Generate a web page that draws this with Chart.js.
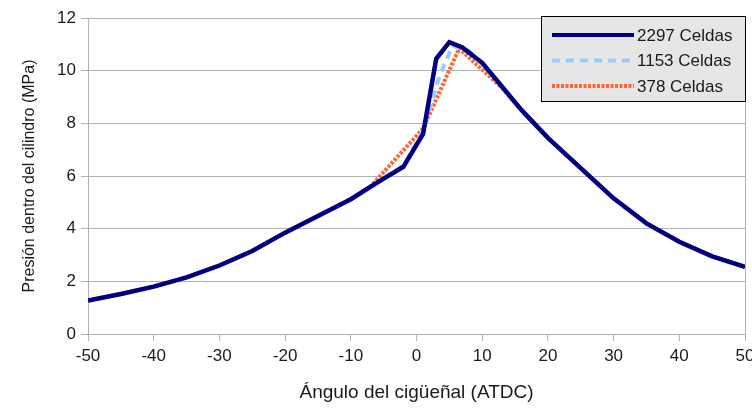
<!DOCTYPE html>
<html>
<head>
<meta charset="utf-8">
<script src="https://cdn.jsdelivr.net/npm/chart.js@4"></script>
<style>
  html, body { margin: 0; padding: 0; background: #fff; }
  #wrap { width: 752px; height: 410px; position: relative; }
</style>
</head>
<body>
<div id="wrap"><canvas id="pressureChart"></canvas></div>
<script>
// Crank angle (deg ATDC) and cylinder pressure (MPa)
const angles2297 = [-50, -45, -40, -35, -30, -25, -20, -15, -10, -6, -2, 1, 3, 5, 7, 10, 13, 16, 20, 25, 30, 35, 40, 45, 50];
const press2297  = [1.27, 1.52, 1.80, 2.15, 2.60, 3.15, 3.85, 4.48, 5.12, 5.75, 6.35, 7.6, 10.45, 11.08, 10.88, 10.3, 9.4, 8.5, 7.45, 6.3, 5.15, 4.2, 3.5, 2.95, 2.55];

const angles1153 = [-50, -45, -40, -35, -30, -25, -20, -15, -10, -6, -2, 1, 3.5, 5.5, 8, 10, 13, 16, 20, 25, 30, 35, 40, 45, 50];
const press1153  = [1.27, 1.52, 1.80, 2.15, 2.60, 3.15, 3.85, 4.48, 5.12, 5.72, 6.4, 7.7, 9.8, 10.95, 10.75, 10.25, 9.4, 8.5, 7.45, 6.3, 5.15, 4.2, 3.5, 2.95, 2.55];

const angles378 = [-50, -45, -40, -35, -30, -25, -20, -15, -10, -7, 1, 6.5, 9.5, 13, 16, 20, 25, 30, 35, 40, 45, 50];
const press378  = [1.27, 1.52, 1.80, 2.15, 2.60, 3.15, 3.85, 4.48, 5.12, 5.6, 7.8, 10.85, 10.15, 9.35, 8.5, 7.45, 6.3, 5.15, 4.2, 3.5, 2.95, 2.55];

const seriesLabels = ['2297 Celdas', '1153 Celdas', '378 Celdas'];
const xTicks = [-50, -40, -30, -20, -10, 0, 10, 20, 30, 40, 50];
const yTicks = [0, 2, 4, 6, 8, 10, 12];

const FONT = '"Liberation Sans", Arial, sans-serif';
const GRID = '#b3b3b3';
const TEXT = '#1a1a1a';

function toPoints(xs, ys) {
    return xs.map((x, i) => ({ x: x, y: ys[i] }));
}

const styles = [
    { color: '#000080', dash: [], width: 4.5 },
    { color: '#99ccff', dash: [8, 6], width: 4 },
    { color: '#ff6633', dash: [3, 1.5], width: 4 }
];

// Legend box drawn on the canvas, top right
const legendBox = {
    id: 'legendBox',
    afterDraw(chart) {
        const ctx = chart.ctx;
        const x0 = 541, y0 = 16, w = 204, h = 85;
        ctx.save();
        ctx.fillStyle = '#e6e6e6';
        ctx.fillRect(x0, y0, w, h);
        ctx.strokeStyle = '#000';
        ctx.lineWidth = 1;
        ctx.strokeRect(x0 + 0.5, y0 + 0.5, w, h);
        ctx.font = '17px ' + FONT;
        ctx.textBaseline = 'middle';
        seriesLabels.forEach((label, i) => {
            const yy = y0 + 19 + i * 25.5;
            ctx.strokeStyle = styles[i].color;
            ctx.lineWidth = 4;
            ctx.setLineDash(styles[i].dash);
            ctx.beginPath();
            ctx.moveTo(552, yy);
            ctx.lineTo(634, yy);
            ctx.stroke();
            ctx.setLineDash([]);
            ctx.fillStyle = TEXT;
            ctx.fillText(label, 637, yy + 1);
        });
        ctx.restore();
    }
};

const datasets = [
    { label: seriesLabels[0], data: toPoints(angles2297, press2297) },
    { label: seriesLabels[1], data: toPoints(angles1153, press1153) },
    { label: seriesLabels[2], data: toPoints(angles378, press378) }
].map((d, k) => Object.assign(d, {
    showLine: true,
    borderColor: styles[k].color,
    backgroundColor: styles[k].color,
    borderWidth: styles[k].width,
    borderDash: styles[k].dash,
    pointRadius: 0,
    tension: 0
}));

new Chart(document.getElementById('pressureChart'), {
    type: 'scatter',
    data: { datasets: datasets },
    options: {
        responsive: true,
        maintainAspectRatio: false,
        animation: false,
        layout: { padding: { top: 18, right: 7, left: 0, bottom: 0 } },
        plugins: {
            legend: { display: false },
            tooltip: { enabled: false }
        },
        scales: {
            x: {
                type: 'linear',
                min: -50,
                max: 50,
                afterBuildTicks: axis => { axis.ticks = xTicks.map(v => ({ value: v })); },
                grid: {
                    color: c => (c.tick && c.tick.value === 50) ? GRID : 'transparent',
                    tickColor: GRID,
                    tickLength: 7
                },
                border: { color: GRID },
                ticks: { color: TEXT, font: { family: FONT, size: 17 }, padding: 5, maxRotation: 0 },
                title: {
                    display: true,
                    text: 'Ángulo del cigüeñal (ATDC)',
                    color: TEXT,
                    font: { family: FONT, size: 19 },
                    padding: { top: 10, bottom: 6 }
                },
                afterFit: axis => {
                    axis.height = 76;
                    axis.paddingRight = 0;
                    axis.paddingLeft = 0;
                }
            },
            y: {
                min: 0,
                max: 12,
                afterBuildTicks: axis => { axis.ticks = yTicks.map(v => ({ value: v })); },
                grid: { color: GRID, tickColor: GRID, tickLength: 7 },
                border: { color: GRID },
                ticks: { color: TEXT, font: { family: FONT, size: 17 }, padding: 5 },
                title: {
                    display: true,
                    text: 'Presión dentro del cilindro (MPa)',
                    color: TEXT,
                    font: { family: FONT, size: 16 },
                    padding: { top: 20, bottom: 0 }
                },
                afterFit: axis => {
                    axis.width = 88;
                    axis.paddingTop = 0;
                    axis.paddingBottom = 0;
                }
            }
        }
    },
    plugins: [legendBox]
});
</script>
</body>
</html>
